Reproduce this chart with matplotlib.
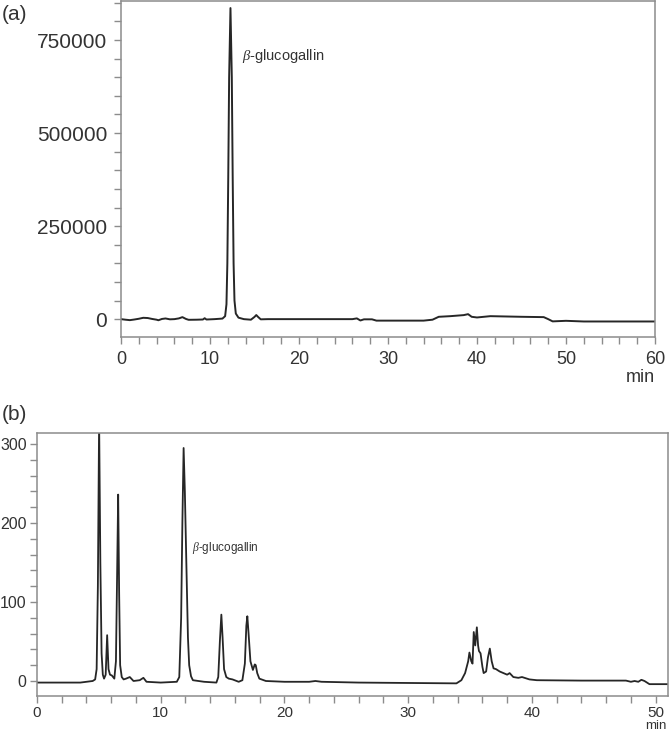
import numpy as np
import matplotlib
matplotlib.use("Agg")
import matplotlib.pyplot as plt
from matplotlib.ticker import MultipleLocator

plt.rcParams['font.family'] = ['Liberation Sans', 'DejaVu Sans']
plt.rcParams['mathtext.fontset'] = 'custom'
plt.rcParams['mathtext.rm'] = 'Liberation Sans'
plt.rcParams['mathtext.it'] = 'Liberation Serif:italic'

# (a) chromatogram, time (min) vs signal
time_a = [0, 0.5, 1.0, 1.5, 2.0, 2.5, 3.0, 3.5, 4.0, 4.2, 4.6, 5.0, 5.5, 6.0,
          6.5, 6.9, 7.3, 7.6, 8.5, 9.2, 9.4, 9.6, 10.5, 11.4, 11.7, 11.85,
          11.95, 12.05, 12.15, 12.3, 12.45, 12.55, 12.65, 12.75, 12.9, 13.2,
          13.8, 14.6, 15.0, 15.2, 15.4, 15.7, 16.5, 20, 26.0, 26.5, 26.9,
          27.3, 28.2, 28.7, 30, 34, 35, 35.7, 37, 38.5, 39.0, 39.4, 40, 41.5,
          45, 47.5, 48.0, 48.5, 50, 52, 60]
signal_a = [0, -1500, -2700, -1000, 1000, 3600, 3000, 500, -1500, -3000, 500,
            1800, -500, 0, 2000, 5400, 500, -1800, -1500, -1000, 2500, -1000,
            0, 1500, 8000, 40000, 150000, 380000, 650000, 836000, 650000,
            380000, 150000, 50000, 15000, 4000, 0, -1500, 6000, 11000, 6000,
            -500, 0, 0, 0, 2000, -3600, -500, -500, -4000, -4000, -4000, -1500,
            6300, 8000, 10800, 13400, 6300, 4500, 8000, 6300, 5400, 0, -6000,
            -4500, -6300, -6300]

# (b) chromatogram
time_b = [0, 3.5, 4.0, 4.5, 4.7, 4.82, 4.92, 5.02, 5.12, 5.22, 5.32, 5.42,
          5.55, 5.67, 5.78, 5.9, 6.05, 6.25, 6.38, 6.48, 6.56, 6.64, 6.72,
          6.85, 7.0, 7.2, 7.5, 7.8, 8.3, 8.6, 8.85, 10.0, 11.3, 11.5, 11.65,
          11.75, 11.85, 11.95, 12.07, 12.2, 12.3, 12.45, 12.6, 13.5, 14.5,
          14.65, 14.78, 14.9, 15.0, 15.12, 15.3, 15.5, 15.8, 16.3, 16.6, 16.8,
          16.92, 17.0, 17.1, 17.25, 17.45, 17.6, 17.68, 17.8, 17.97, 18.5, 20,
          22, 22.5, 23, 26, 33.9, 34.3, 34.6, 34.85, 34.95, 35.1, 35.2, 35.3,
          35.42, 35.55, 35.65, 35.72, 35.85, 36.0, 36.1, 36.3, 36.45, 36.6,
          36.75, 36.9, 37.1, 37.4, 37.7, 38.0, 38.2, 38.5, 38.9, 39.2, 39.8,
          40.4, 44, 47.6, 48.0, 48.3, 48.6, 48.85, 49.1, 49.5, 51]
signal_b = [-2, -2, -1, 0, 2, 15, 120, 330, 150, 35, 8, 3, 8, 58, 15, 8, 7, 3,
            25, 140, 236, 110, 20, 5, 2, 3, 5, 0, 1, 4, -1, -2, -1, 5, 80, 200,
            295, 240, 150, 55, 20, 6, 1, -1, -2, 5, 50, 84, 55, 15, 5, 3, 2, -1,
            1, 22, 70, 82, 60, 25, 14, 21, 20, 10, 3, 0, -1, -1, 0, -1, -2, -3,
            1, 10, 25, 36, 25, 22, 62, 45, 68, 45, 38, 35, 18, 10, 12, 30, 41,
            25, 16, 15, 12, 10, 8, 10, 5, 4, 5, 2, 1, 0.5, 0.5, -1, 0, -1, 1.5,
            0, -4, -4]

line_col = '#262626'
spine_col = '#8c8c8c'
text_col = '#333333'

W, H = 669, 733
fig = plt.figure(figsize=(W / 100, H / 100), dpi=100)
ax1 = fig.add_axes([121 / W, 1 - 337 / H, (655 - 121) / W, 336 / H])
ax2 = fig.add_axes([37 / W, 1 - 696 / H, (668 - 37) / W, 263 / H])


def style(ax, xfs, yfs, ypad, xpad=5):
    for s in ax.spines.values():
        s.set_color(spine_col)
        s.set_linewidth(1.1)
    ax.xaxis.set_minor_locator(MultipleLocator(2))
    ax.xaxis.set_major_locator(MultipleLocator(10))
    ax.tick_params(axis='both', which='both', direction='out', length=5,
                   width=1, color=spine_col, labelcolor=text_col)
    ax.tick_params(axis='x', labelsize=xfs, pad=xpad)
    ax.tick_params(axis='y', labelsize=yfs, pad=ypad)
    ax.tick_params(top=False, right=False)


ax1.plot(time_a, signal_a, color=line_col, lw=1.4)
ax1.set_xlim(0, 60)
ax1.set_ylim(-48000, 855000)
ax1.yaxis.set_major_locator(MultipleLocator(250000))
ax1.yaxis.set_minor_locator(MultipleLocator(50000))
style(ax1, 13, 15, 5)
ax1.text(13.6, 707000, r'$\beta$-glucogallin', fontsize=10.5, color=text_col,
         va='center', ha='left')

ax2.plot(time_b, signal_b, color=line_col, lw=1.3)
ax2.set_xlim(0, 51)
ax2.set_ylim(-19, 314)
ax2.yaxis.set_major_locator(MultipleLocator(100))
ax2.yaxis.set_minor_locator(MultipleLocator(20))
style(ax2, 11, 11.5, 2.5, xpad=2.5)
ax2.text(12.5, 169, r'$\beta$-glucogallin', fontsize=8.5, color=text_col,
         va='center', ha='left')

fig.text(2 / W, 1 - 14 / H, '(a)', fontsize=15, color=text_col,
         va='center', ha='left')
fig.text(2 / W, 1 - 414 / H, '(b)', fontsize=15, color=text_col,
         va='center', ha='left')
fig.text(640 / W, 1 - 377 / H, 'min', fontsize=13, color=text_col,
         va='center', ha='center')
fig.text(656 / W, 1 - 732 / H, 'min', fontsize=9.5, color=text_col,
         va='bottom', ha='center')

fig.savefig('out.png', dpi=100)
